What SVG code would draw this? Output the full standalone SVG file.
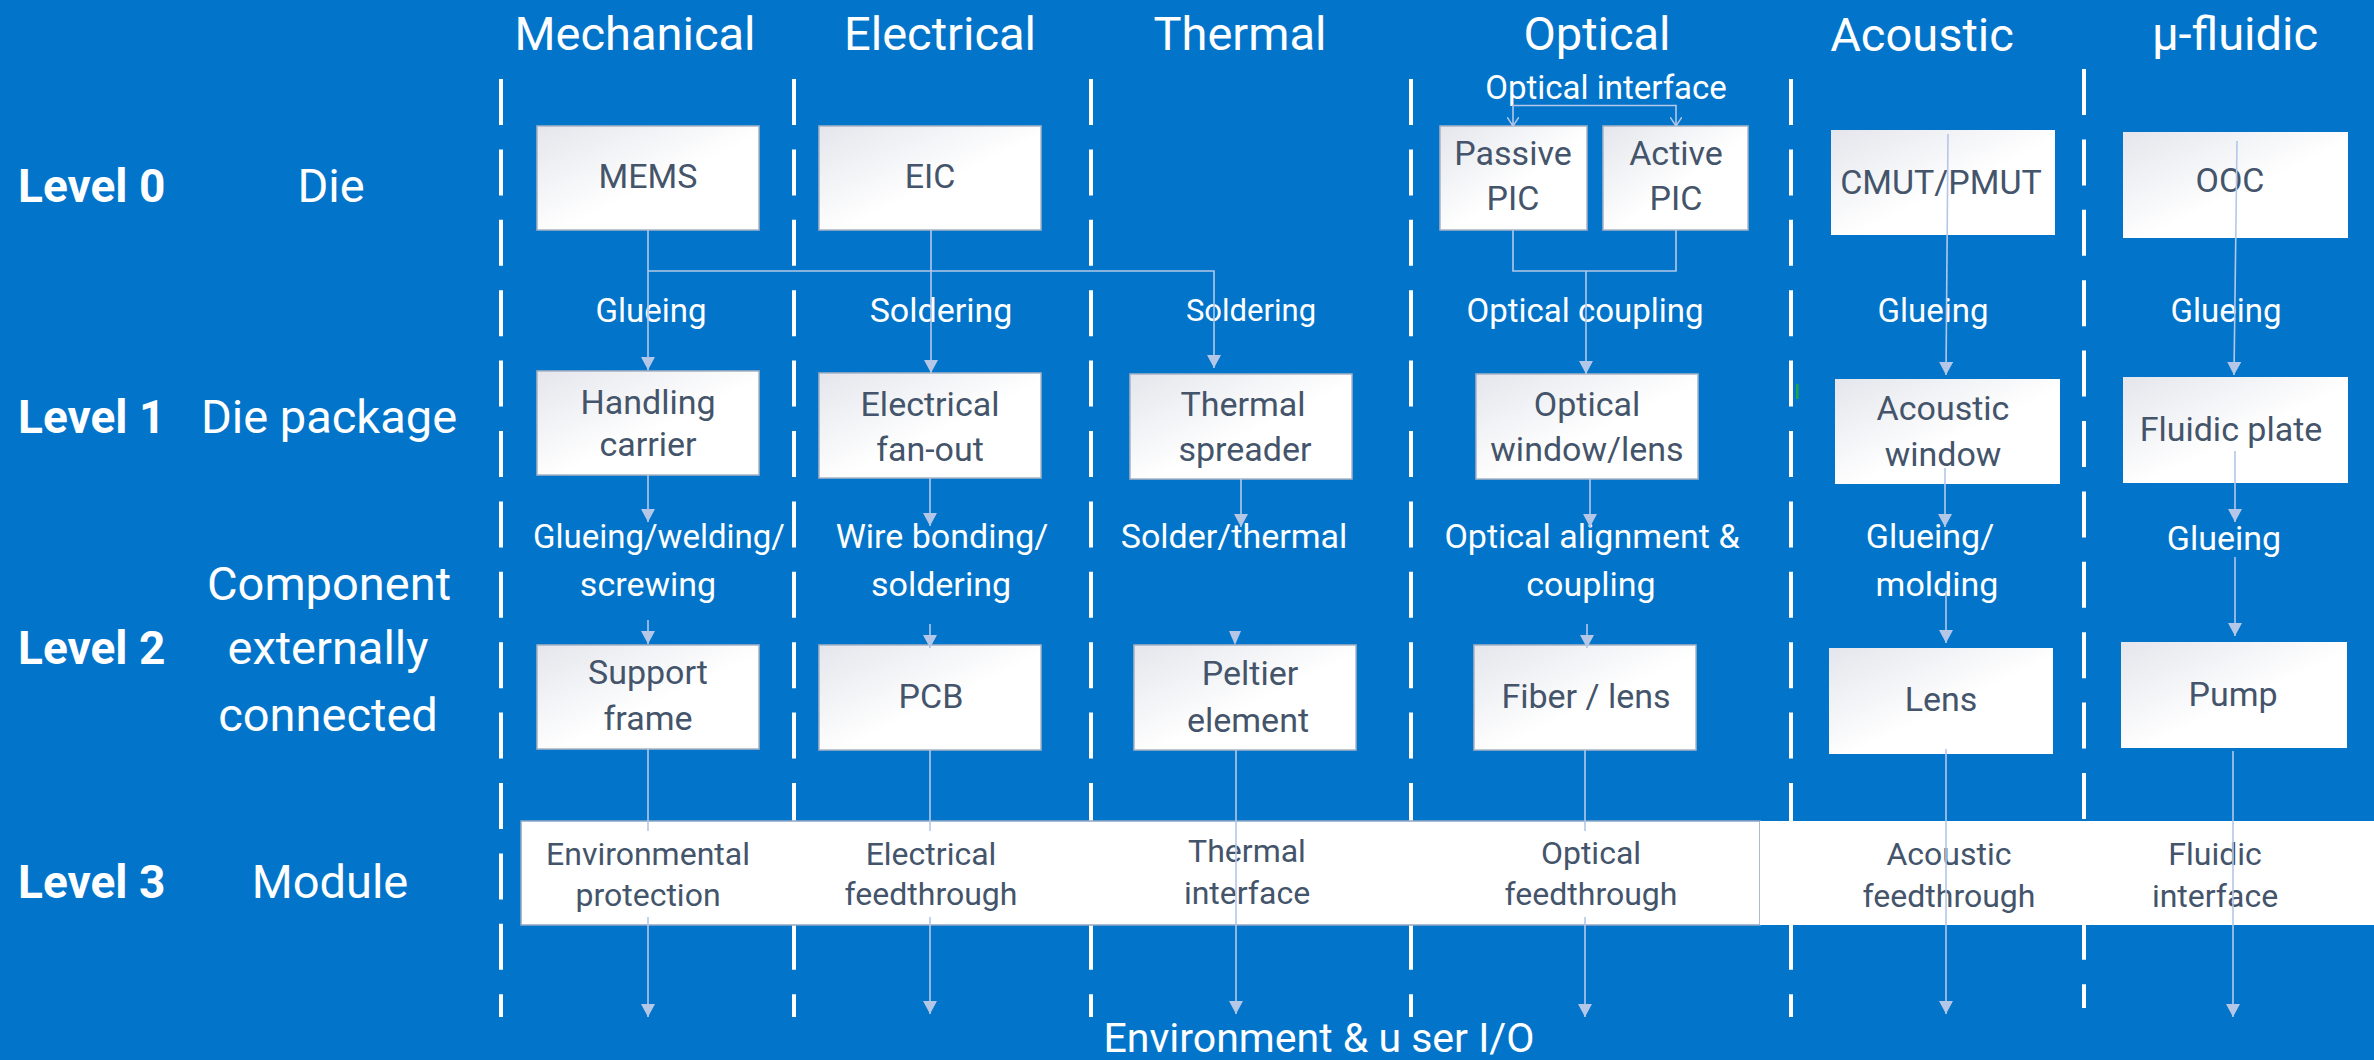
<svg xmlns="http://www.w3.org/2000/svg" width="2374" height="1060" viewBox="0 0 2374 1060">
<style>
text{font-family:Roboto,"Liberation Sans",sans-serif}
.hdr{font-size:47px;fill:#fff;text-anchor:middle}
.lvl{font-size:46px;font-weight:bold;fill:#fff}
.side{font-size:47px;fill:#fff;text-anchor:middle}
.lbl{font-size:33px;fill:#fff;text-anchor:middle}
.lbl2{font-size:34px;fill:#fff;text-anchor:middle}
.bx{fill:url(#g);stroke:#A9B3C2;stroke-width:1.5}
.bxn{fill:url(#g)}
.bt{font-size:34px;fill:#44546A;text-anchor:middle}
.bandt{font-size:32px;fill:#44546A;text-anchor:middle}
.dash{stroke:#fff;stroke-width:4;stroke-dasharray:46 24.4;fill:none}
.conn{stroke:#B4C7E7;stroke-width:1.6;fill:none}
.arr{marker-end:url(#ah)}
.open{marker-end:url(#oa)}
</style>
<defs>
<linearGradient id="g" x1="0" y1="0" x2="1" y2="1">
<stop offset="0" stop-color="#E4E6EC"/>
<stop offset="0.55" stop-color="#FFFFFF"/>
<stop offset="1" stop-color="#FFFFFF"/>
</linearGradient>
<marker id="ah" markerUnits="userSpaceOnUse" markerWidth="13" markerHeight="14" viewBox="0 0 13 14" refX="13" refY="7" orient="auto">
<path d="M0,0 L13,7 L0,14 Z" fill="#B4C7E7"/>
</marker>
<marker id="oa" markerUnits="userSpaceOnUse" markerWidth="10" markerHeight="12" viewBox="0 0 10 12" refX="9" refY="6" orient="auto">
<path d="M0,0 L9,6 L0,12" fill="none" stroke="#B4C7E7" stroke-width="1.5"/>
</marker>
</defs>
<rect x="0" y="0" width="2374" height="1060" fill="#0275CB"/>

<g id="headers">
<text class="hdr" x="635" y="50">Mechanical</text>
<text class="hdr" x="940" y="50">Electrical</text>
<text class="hdr" x="1240" y="50">Thermal</text>
<text class="hdr" x="1597" y="50">Optical</text>
<text class="hdr" x="1922" y="51">Acoustic</text>
<text class="hdr" x="2235" y="50">µ-fluidic</text>
</g>

<g id="levels">
<text class="lvl" x="18" y="202">Level 0</text>
<text class="side" x="331" y="202">Die</text>
<text class="lvl" x="18" y="433">Level 1</text>
<text class="side" x="329" y="433">Die package</text>
<text class="lvl" x="18" y="664">Level 2</text>
<text class="side" x="329" y="600">Component</text>
<text class="side" x="328" y="664">externally</text>
<text class="side" x="328" y="731">connected</text>
<text class="lvl" x="18" y="898">Level 3</text>
<text class="side" x="330" y="898">Module</text>
</g>

<g id="dividers">
<line class="dash" x1="501" y1="79" x2="501" y2="1017"/>
<line class="dash" x1="794" y1="79" x2="794" y2="1017"/>
<line class="dash" x1="1091" y1="79" x2="1091" y2="1017"/>
<line class="dash" x1="1411" y1="79" x2="1411" y2="1017"/>
<line class="dash" x1="1791" y1="79" x2="1791" y2="1017"/>
<line class="dash" x1="2084" y1="69" x2="2084" y2="1008"/>
<rect x="1796" y="384" width="2.5" height="15" fill="#1FA34A"/>
</g>

<g id="module-band">
<rect x="521" y="821" width="1239" height="104" fill="#fff" stroke="#8FA6C4" stroke-width="1.5"/>
<rect x="1760" y="821" width="614" height="104" fill="#fff"/>
<text class="bandt" x="648" y="865">Environmental</text>
<text class="bandt" x="648" y="906">protection</text>
<text class="bandt" x="931" y="865">Electrical</text>
<text class="bandt" x="931" y="905">feedthrough</text>
<text class="bandt" x="1247" y="862">Thermal</text>
<text class="bandt" x="1247" y="904">interface</text>
<text class="bandt" x="1591" y="864">Optical</text>
<text class="bandt" x="1591" y="905">feedthrough</text>
<text class="bandt" x="1949" y="865">Acoustic</text>
<text class="bandt" x="1949" y="907">feedthrough</text>
<text class="bandt" x="2215" y="865">Fluidic</text>
<text class="bandt" x="2215" y="907">interface</text>
</g>

<g id="n-mems"><rect class="bx" x="537" y="126" width="222" height="104"/><text class="bt" x="648" y="188">MEMS</text></g>
<g id="n-eic"><rect class="bx" x="819" y="126" width="222" height="104"/><text class="bt" x="930" y="188">EIC</text></g>
<g id="n-passive-pic"><rect class="bx" x="1440" y="126" width="147" height="104"/><text class="bt" x="1513" y="165">Passive</text><text class="bt" x="1513" y="210">PIC</text></g>
<g id="n-active-pic"><rect class="bx" x="1603" y="126" width="145" height="104"/><text class="bt" x="1676" y="165">Active</text><text class="bt" x="1676" y="210">PIC</text></g>
<g id="n-cmut"><rect class="bxn" x="1831" y="130" width="224" height="105"/><text class="bt" x="1941" y="194">CMUT/PMUT</text></g>
<g id="n-ooc"><rect class="bxn" x="2123" y="132" width="225" height="106"/><text class="bt" x="2230" y="192">OOC</text></g>

<g id="n-handling"><rect class="bx" x="537" y="371" width="222" height="104"/><text class="bt" x="648" y="414">Handling</text><text class="bt" x="648" y="456">carrier</text></g>
<g id="n-fanout"><rect class="bx" x="819" y="373" width="222" height="105"/><text class="bt" x="930" y="416">Electrical</text><text class="bt" x="930" y="461">fan-out</text></g>
<g id="n-spreader"><rect class="bx" x="1130" y="374" width="222" height="105"/><text class="bt" x="1243" y="416">Thermal</text><text class="bt" x="1245" y="461">spreader</text></g>
<g id="n-window-lens"><rect class="bx" x="1476" y="374" width="222" height="105"/><text class="bt" x="1587" y="416">Optical</text><text class="bt" x="1587" y="461">window/lens</text></g>
<g id="n-acoustic-window"><rect class="bxn" x="1835" y="379" width="225" height="105"/><text class="bt" x="1943" y="420">Acoustic</text><text class="bt" x="1943" y="466">window</text></g>
<g id="n-fluidic-plate"><rect class="bxn" x="2123" y="377" width="225" height="106"/><text class="bt" x="2231" y="441">Fluidic plate</text></g>

<g id="n-support"><rect class="bx" x="537" y="645" width="222" height="104"/><text class="bt" x="648" y="684">Support</text><text class="bt" x="648" y="730">frame</text></g>
<g id="n-pcb"><rect class="bx" x="819" y="645" width="222" height="105"/><text class="bt" x="931" y="708">PCB</text></g>
<g id="n-peltier"><rect class="bx" x="1134" y="645" width="222" height="105"/><text class="bt" x="1250" y="685">Peltier</text><text class="bt" x="1248" y="732">element</text></g>
<g id="n-fiber"><rect class="bx" x="1474" y="645" width="222" height="105"/><text class="bt" x="1586" y="708">Fiber / lens</text></g>
<g id="n-lens"><rect class="bxn" x="1829" y="648" width="224" height="106"/><text class="bt" x="1941" y="711">Lens</text></g>
<g id="n-pump"><rect class="bxn" x="2121" y="642" width="226" height="106"/><text class="bt" x="2233" y="706">Pump</text></g>

<g id="labels">
<text class="lbl" x="1606" y="99">Optical interface</text>
<text class="lbl" x="651" y="322">Glueing</text>
<text class="lbl2" x="941" y="322">Soldering</text>
<text class="lbl" x="1251" y="321" style="font-size:31px">Soldering</text>
<text class="lbl" x="1585" y="322">Optical coupling</text>
<text class="lbl" x="1933" y="322">Glueing</text>
<text class="lbl" x="2226" y="322">Glueing</text>
<text class="lbl" x="659" y="548">Glueing/welding/</text>
<text class="lbl2" x="648" y="596">screwing</text>
<text class="lbl2" x="942" y="548">Wire bonding/</text>
<text class="lbl2" x="941" y="596">soldering</text>
<text class="lbl2" x="1234" y="548">Solder/thermal</text>
<text class="lbl2" x="1592" y="548">Optical alignment &amp;</text>
<text class="lbl2" x="1591" y="596">coupling</text>
<text class="lbl2" x="1930" y="548">Glueing/</text>
<text class="lbl2" x="1937" y="596">molding</text>
<text class="lbl2" x="2224" y="550">Glueing</text>
<text class="hdr" x="1319" y="1052" style="font-size:41px">Environment &amp; u ser I/O</text>
</g>

<g id="connectors">
<path class="conn open" d="M1595,105.5 H1513 V126"/>
<path class="conn open" d="M1595,105.5 H1676 V126"/>
<path class="conn arr" d="M648,230 V370"/>
<path class="conn arr" d="M648,271 H1214 V368"/>
<path class="conn arr" d="M931,230 V373"/>
<path class="conn" d="M1513,230 V271 H1676 V230"/>
<path class="conn arr" d="M1586,271 V374"/>
<path class="conn arr" d="M1948,134 L1946,375"/>
<path class="conn arr" d="M2237,141 L2234,375"/>
<path class="conn arr" d="M648,475 V522"/>
<path class="conn arr" d="M648,620 V644"/>
<path class="conn arr" d="M930,478 V526"/>
<path class="conn arr" d="M930,624 V648"/>
<path class="conn arr" d="M1241,479 V527"/>
<polygon points="1229,631 1241,631 1235,645" fill="#B4C7E7"/>
<path class="conn arr" d="M1590,479 V527"/>
<path class="conn arr" d="M1587,624 V648"/>
<path class="conn arr" d="M1945,468 V527"/>
<path class="conn arr" d="M1946,591 V643"/>
<path class="conn arr" d="M2235,451 V522"/>
<path class="conn arr" d="M2235,557 V636"/>
<path class="conn arr" d="M648,749 V831 M648,917 V1017"/>
<path class="conn arr" d="M930,750 V831 M930,917 V1014"/>
<path class="conn arr" d="M1236,750 V1014"/>
<path class="conn arr" d="M1585,750 V831 M1585,917 V1017"/>
<path class="conn arr" d="M1946,749 V1014"/>
<path class="conn arr" d="M2233,751 V1017"/>
</g>
</svg>
